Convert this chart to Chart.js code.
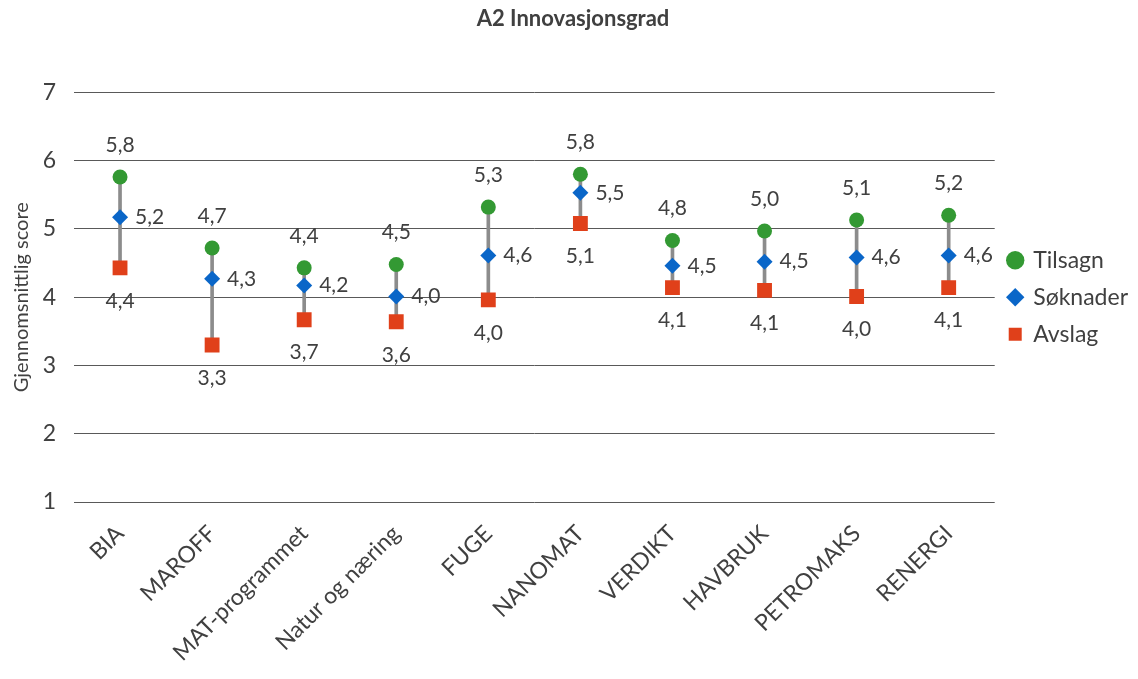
<!DOCTYPE html>
<html>
<head>
<meta charset="utf-8">
<script src="https://cdn.jsdelivr.net/npm/chart.js@4"></script>
<style>
  html, body { margin: 0; padding: 0; background: #fff; }
  #wrap { width: 1138px; height: 679px; }
</style>
</head>
<body>
<div id="wrap"><canvas id="chart"></canvas></div>
<script>
// ===== Données =====
const categories = ['BIA', 'MAROFF', 'MAT-programmet', 'Natur og næring', 'FUGE', 'NANOMAT', 'VERDIKT', 'HAVBRUK', 'PETROMAKS', 'RENERGI']
const tilsagn  = [5.76, 4.72, 4.43, 4.48, 5.32, 5.80, 4.83, 4.97, 5.13, 5.20]
const soknader = [5.17, 4.27, 4.17, 4.01, 4.61, 5.53, 4.46, 4.52, 4.58, 4.61]
const avslag   = [4.43, 3.30, 3.67, 3.64, 3.96, 5.08, 4.14, 4.10, 4.01, 4.14]
const yTicks = [1, 2, 3, 4, 5, 6, 7]

const textColor = '#404040'
const fontFamily = 'Lato, "Open Sans", sans-serif'

// Ligne haut-bas (min -> max de chaque catégorie)
const hiLow = categories.map((_, i) => {
  const vals = [tilsagn[i], soknader[i], avslag[i]]
  return [Math.min(...vals), Math.max(...vals)]
})

const fmt = v => v.toFixed(1).replace('.', ',')

// Étiquettes de données
const labelPlugin = {
  id: 'pointLabels',
  afterDatasetsDraw(chart) {
    const ctx = chart.ctx
    ctx.save()
    ctx.font = '21px ' + fontFamily
    ctx.fillStyle = textColor
    ctx.textBaseline = 'middle'
    chart.data.datasets.forEach((ds, di) => {
      if (!ds.labelPos) return
      const meta = chart.getDatasetMeta(di)
      meta.data.forEach((pt, i) => {
        const txt = fmt(ds.data[i])
        if (ds.labelPos === 'top') {
          ctx.textAlign = 'center'
          ctx.fillText(txt, pt.x, pt.y - 32)
        } else if (ds.labelPos === 'bottom') {
          ctx.textAlign = 'center'
          ctx.fillText(txt, pt.x, pt.y + 33)
        } else {
          ctx.textAlign = 'left'
          ctx.fillText(txt, pt.x + 15, pt.y)
        }
      })
    })
    ctx.restore()
  }
}

const ctx = document.getElementById('chart').getContext('2d')
window.innovChart = new Chart(ctx, {
  data: {
    labels: categories,
    datasets: [
      {
        type: 'line',
        label: 'Tilsagn',
        data: tilsagn,
        showLine: false,
        pointStyle: 'circle',
        pointRadius: 7.5,
        pointHoverRadius: 7.5,
        backgroundColor: '#339933',
        borderColor: '#339933',
        borderWidth: 0,
        labelPos: 'top',
        order: 1
      },
      {
        type: 'line',
        label: 'Søknader',
        data: soknader,
        showLine: false,
        pointStyle: 'rectRot',
        pointRadius: 8,
        pointHoverRadius: 8,
        backgroundColor: '#0a66c8',
        borderColor: '#0a66c8',
        borderWidth: 0,
        labelPos: 'right',
        order: 1
      },
      {
        type: 'line',
        label: 'Avslag',
        data: avslag,
        showLine: false,
        pointStyle: 'rect',
        pointRadius: 10.5,
        pointHoverRadius: 10.5,
        backgroundColor: '#e0401a',
        borderColor: '#e0401a',
        borderWidth: 0,
        labelPos: 'bottom',
        order: 1
      },
      {
        type: 'bar',
        label: 'hilo',
        data: hiLow,
        backgroundColor: '#8c8c8c',
        barThickness: 3,
        order: 10
      }
    ]
  },
  options: {
    responsive: true,
    maintainAspectRatio: false,
    animation: false,
    layout: { padding: { left: 8, right: 0, top: 0, bottom: 0 } },
    plugins: {
      title: {
        display: true,
        text: 'A2 Innovasjonsgrad',
        color: textColor,
        font: { family: fontFamily, size: 22, weight: 'bold' },
        padding: { top: 6, bottom: 60 }
      },
      legend: {
        position: 'right',
        fullSize: false,
        labels: {
          filter: item => item.text !== 'hilo',
          usePointStyle: true,
          boxWidth: 13,
          boxHeight: 13,
          padding: 14,
          color: textColor,
          font: { family: fontFamily, size: 23 }
        }
      },
      tooltip: { enabled: false }
    },
    scales: {
      x: {
        grid: { display: false },
        border: { display: false },
        ticks: {
          color: textColor,
          font: { family: fontFamily, size: 23 },
          minRotation: 45,
          maxRotation: 45,
          padding: 10
        },
        afterFit: s => { s.height = 177 }
      },
      y: {
        min: 1,
        max: 7,
        afterBuildTicks: s => { s.ticks = yTicks.map(v => ({ value: v })) },
        grid: { color: '#595959', lineWidth: 1, drawTicks: false },
        border: { display: false },
        ticks: {
          color: textColor,
          font: { family: fontFamily, size: 23 },
          padding: 18
        },
        title: {
          display: true,
          text: 'Gjennomsnittlig score',
          color: textColor,
          font: { family: fontFamily, size: 20 },
          padding: 2
        },
        afterFit: s => { s.width = 66 }
      }
    }
  },
  plugins: [labelPlugin]
})
</script>
</body>
</html>
